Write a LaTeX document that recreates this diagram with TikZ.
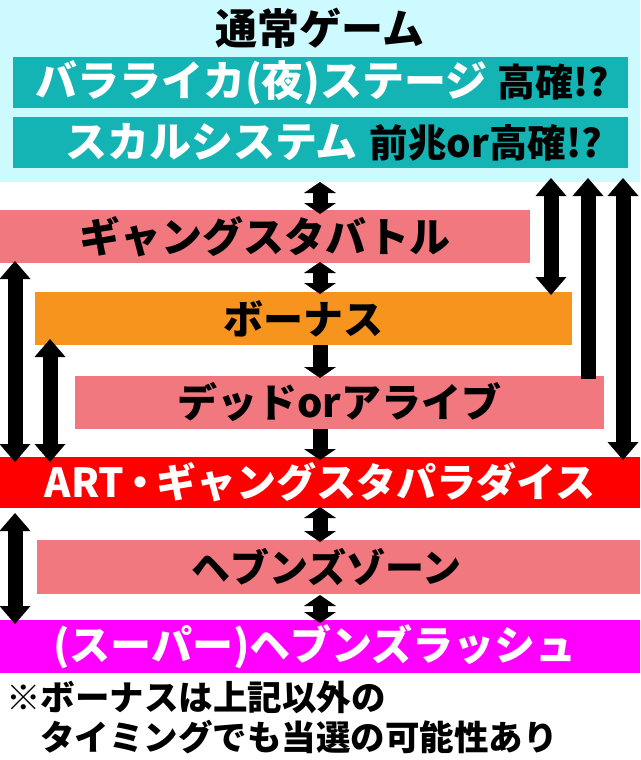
\documentclass[tikz,border=0pt]{standalone}
\usepackage{fontspec}
\newfontfamily\jp{Noto Sans CJK JP}[BoldFont={Noto Sans CJK JP Black}]
\usetikzlibrary{arrows.meta}
\definecolor{bgcyan}{RGB}{204,250,255}
\definecolor{tealbox}{RGB}{20,180,180}
\definecolor{salmon}{RGB}{242,120,127}
\definecolor{orng}{RGB}{247,148,30}
\definecolor{redbox}{RGB}{255,0,0}
\definecolor{magn}{RGB}{255,0,255}
\tikzset{
  LH/.tip={Triangle[width=31pt,length=18pt,line width=0pt]},
  SH/.tip={Triangle[width=32pt,length=11pt,line width=0pt]},
}
\begin{document}
\begin{tikzpicture}[x=1pt,y=-1pt,
  box/.style={rectangle, inner sep=0pt, outer sep=0pt, minimum height=53pt},
  fs/.style={font=\jp\bfseries\fontsize{#1}{#1}\selectfont},
  txt/.style={inner sep=0pt, outer sep=0pt},
  arr/.style={draw=black, line width=15pt, line cap=butt},
]
\useasboundingbox (0,0) rectangle (640,760);
% background of the normal-game area
\node[box, fill=bgcyan, minimum width=640pt, minimum height=182pt] (bg) at (320,91) {};
\node[txt, fs=42] (title) at (320,28) {通常ゲーム};
\node[box, fill=tealbox, minimum width=615pt, minimum height=51pt] (t1) at (320.5,82.5) {};
\node[txt, anchor=west] (t1txt) at ([xshift=22pt]t1.west)
  {{\jp\bfseries\fontsize{42}{42}\selectfont\color{white}バラライカ(夜)ステージ}\hspace{10pt}{\jp\bfseries\fontsize{38}{38}\selectfont 高確!?}};
\node[box, fill=tealbox, minimum width=615pt, minimum height=51pt] (t2) at (320.5,142.5) {};
\node[txt, anchor=west] (t2txt) at ([xshift=52pt]t2.west)
  {{\jp\bfseries\fontsize{42}{42}\selectfont\color{white}スカルシステム}\hspace{12pt}{\jp\bfseries\fontsize{38.5}{38.5}\selectfont 前兆or高確!?}};
% states
\node[box, fill=salmon, minimum width=530pt, fs=41] (gb) at (265,236.5) {ギャングスタバトル};
\node[box, fill=orng, minimum width=537pt, fs=40] (bonus) at (303.5,318.5) {ボーナス};
\node[box, fill=salmon, minimum width=529pt, fs=40] (dead) at (339.5,402.5) {デッドorアライブ};
\node[box, fill=redbox, minimum width=640pt, minimum height=51pt, fs=40, text=white] (art) at (320,482.5) {ART\hspace{-4pt}・\hspace{-4pt}ギャングスタパラダイス};
\node[box, fill=salmon, minimum width=603pt, minimum height=54pt, fs=39] (hz) at (338.5,567) {ヘブンズゾーン\hspace*{24pt}};
\node[box, fill=magn, minimum width=640pt, fs=41, text=white] (hr) at (320,646.5) {(スーパー)ヘブンズラッシュ\hspace*{10pt}};
% footnote
\node[txt, fs=34.5, anchor=west] (n1) at (6,697) {※ボーナスは上記以外の};
\node[txt, fs=34.5, anchor=west] (n2) at (40,737) {タイミングでも当選の可能性あり};
% arrow columns
\coordinate (cm) at (320,0);
\coordinate (l1) at (15,0);
\coordinate (l2) at (50,0);
\coordinate (r1) at (551,0);
\coordinate (r2) at (588,0);
\coordinate (r3) at (623,0);
% centre arrows
\draw[arr, {SH}-{SH}, shorten >=-4pt] (bg.south -| cm) -- (gb.north -| cm);
\draw[arr, {SH}-{SH}, shorten <=-1pt, shorten >=-2pt] (gb.south -| cm) -- (bonus.north -| cm);
\draw[arr, -{SH}, shorten >=-2pt] (bonus.south -| cm) -- (dead.north -| cm);
\draw[arr, -{SH}, shorten >=-3pt] (dead.south -| cm) -- (art.north -| cm);
\draw[arr, {SH}-{SH}, shorten <=-1pt, shorten >=-2pt] (art.south -| cm) -- (hz.north -| cm);
\draw[arr, {SH}-{SH}, shorten <=1pt, shorten >=-3pt] (hz.south -| cm) -- (hr.north -| cm);
% left arrows
\draw[arr, {LH}-{LH}, shorten <=-2pt, shorten >=-5pt] (gb.south -| l1) -- (art.north -| l1);
\draw[arr, {LH}-{LH}, shorten <=-6pt, shorten >=-5pt] (bonus.south -| l2) -- (art.north -| l2);
\draw[arr, {LH}-{LH}, shorten <=5pt, shorten >=-4pt] (art.south -| l1) -- (hr.north -| l1);
% right arrows
\draw[arr, {LH}-{LH}, shorten <=-4pt, shorten >=-3pt] (bg.south -| r1) -- (bonus.north -| r1);
\draw[arr, -{LH}, shorten <=-3pt, shorten >=-4pt] (dead.north -| r2) -- (bg.south -| r2);
\draw[arr, {LH}-{LH}, shorten <=-4pt, shorten >=-3pt] (bg.south -| r3) -- (art.north -| r3);
\end{tikzpicture}
\end{document}
